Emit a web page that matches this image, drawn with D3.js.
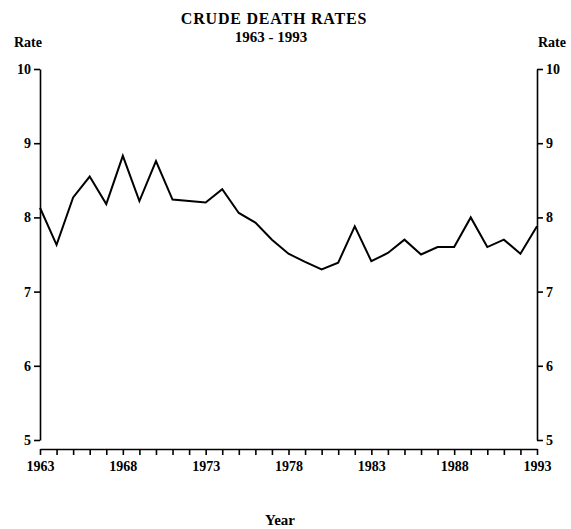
<!DOCTYPE html>
<html lang="en">
<head>
<meta charset="utf-8">
<title>Crude death rates</title>
<style>
body {
  margin: 0;
  background: #fff;
}
svg text {
  font-family: "Liberation Serif", "Times New Roman", serif;
  font-weight: bold;
  fill: #000;
}
.axis path, .axis line {
  stroke: #000;
  stroke-width: 1.6px;
}
.axis text {
  font-size: 14px;
}
</style>
</head>
<body>
<div id="chart"></div>
<script src="https://cdn.jsdelivr.net/npm/d3@7"></script>
<script>

var years = [1963, 1964, 1965, 1966, 1967, 1968, 1969, 1970, 1971, 1972,
             1973, 1974, 1975, 1976, 1977, 1978, 1979, 1980, 1981, 1982,
             1983, 1984, 1985, 1986, 1987, 1988, 1989, 1990, 1991, 1992, 1993];
var rates = [8.13, 7.63, 8.27, 8.55, 8.18, 8.83, 8.22, 8.76, 8.24, 8.22,
             8.20, 8.38, 8.06, 7.93, 7.70, 7.51, 7.40, 7.30, 7.39, 7.88,
             7.41, 7.52, 7.70, 7.50, 7.60, 7.60, 8.00, 7.60, 7.70, 7.51, 7.88];
var yTicks = [5, 6, 7, 8, 9, 10];
var xLabels = [1963, 1968, 1973, 1978, 1983, 1988, 1993];

var width = 571, height = 529;
var plotLeft = 40, plotRight = 537, plotTop = 69, plotBottom = 440;

var svg = d3.select("#chart").append("svg")
    .attr("width", width)
    .attr("height", height);

var x = d3.scaleLinear().domain([1963, 1993]).range([plotLeft, plotRight]);
var y = d3.scaleLinear().domain([5, 10]).range([plotBottom, plotTop]);

// left and right rate axes
svg.append("g")
    .attr("class", "axis")
    .attr("transform", "translate(" + plotLeft + ",0)")
    .call(d3.axisLeft(y).tickValues(yTicks).tickFormat(d3.format("d"))
      .tickSize(6).tickSizeOuter(0).tickPadding(3));

svg.append("g")
    .attr("class", "axis")
    .attr("transform", "translate(" + plotRight + ",0)")
    .call(d3.axisRight(y).tickValues(yTicks).tickFormat(d3.format("d"))
      .tickSize(6).tickSizeOuter(0).tickPadding(3));

// year axis, tick every year, label every five
svg.append("g")
    .attr("class", "axis")
    .attr("transform", "translate(0," + (plotBottom + 9) + ")")
    .call(d3.axisBottom(x)
      .tickValues(years)
      .tickSize(6)
      .tickSizeOuter(0)
      .tickPadding(6)
      .tickFormat(function(d) { return xLabels.indexOf(d) >= 0 ? d : ""; }));

var line = d3.line()
    .x(function(d, i) { return x(years[i]); })
    .y(function(d) { return y(d); });

svg.append("path")
    .datum(rates)
    .attr("d", line)
    .attr("fill", "none")
    .attr("stroke", "#000")
    .attr("stroke-width", 2)
    .attr("stroke-linejoin", "miter");

// titles
svg.append("text")
    .attr("x", 274).attr("y", 24)
    .attr("text-anchor", "middle")
    .style("font-size", "16px")
    .style("letter-spacing", "0.8px")
    .text("CRUDE DEATH RATES");

svg.append("text")
    .attr("x", 271).attr("y", 42)
    .attr("text-anchor", "middle")
    .style("font-size", "15px")
    .text("1963 - 1993");

svg.append("text")
    .attr("x", 28).attr("y", 47)
    .attr("text-anchor", "middle")
    .style("font-size", "14px")
    .text("Rate");

svg.append("text")
    .attr("x", 552).attr("y", 47)
    .attr("text-anchor", "middle")
    .style("font-size", "14px")
    .text("Rate");

svg.append("text")
    .attr("x", 280).attr("y", 525)
    .attr("text-anchor", "middle")
    .style("font-size", "15px")
    .text("Year");

</script>
</body>
</html>
